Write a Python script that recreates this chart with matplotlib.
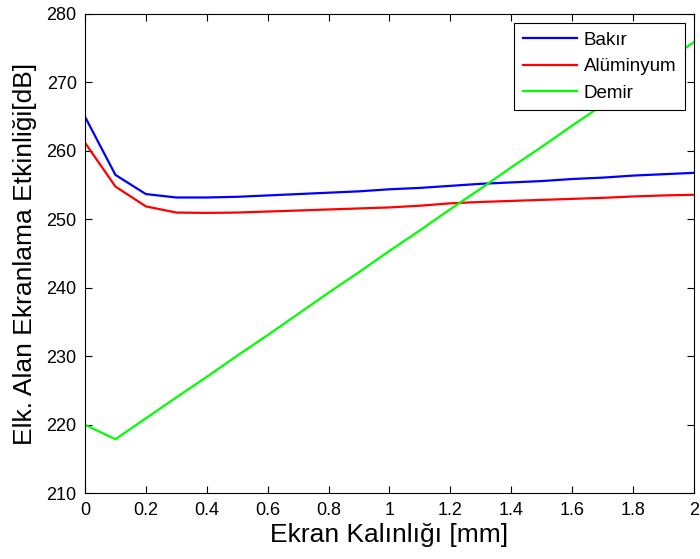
import matplotlib
matplotlib.use("Agg")
import matplotlib.pyplot as plt

# ekran kalinligi [mm]
thickness = [0.0, 0.1, 0.2, 0.3, 0.4, 0.5, 0.6, 0.7, 0.8, 0.9, 1.0,
             1.1, 1.2, 1.3, 1.4, 1.5, 1.6, 1.7, 1.8, 1.9, 2.0]

# ekranlama etkinligi [dB]
bakir = [265.0, 256.5, 253.7, 253.2, 253.2, 253.3, 253.5, 253.7, 253.9, 254.1, 254.4,
         254.6, 254.9, 255.2, 255.4, 255.6, 255.9, 256.1, 256.4, 256.6, 256.8]
aluminyum = [261.2, 254.8, 251.9, 251.0, 250.95, 251.0, 251.15, 251.3, 251.45, 251.6, 251.75,
             252.0, 252.35, 252.55, 252.7, 252.85, 253.0, 253.15, 253.35, 253.5, 253.6]
demir = [220.0, 217.9, 220.95, 224.0, 227.0, 230.1, 233.1, 236.2, 239.3, 242.3, 245.4,
         248.4, 251.5, 254.5, 257.6, 260.6, 263.7, 266.7, 269.8, 272.8, 275.9]

xticks = [0, 0.2, 0.4, 0.6, 0.8, 1, 1.2, 1.4, 1.6, 1.8, 2]
xtick_labels = ["0", "0.2", "0.4", "0.6", "0.8", "1", "1.2", "1.4", "1.6", "1.8", "2"]
yticks = [210, 220, 230, 240, 250, 260, 270, 280]

plt.rcParams['font.family'] = ['Liberation Sans Narrow', 'Liberation Sans', 'DejaVu Sans']
label_font = ['Liberation Sans', 'DejaVu Sans']

fig = plt.figure(figsize=(7, 5.59), dpi=100)
ax = fig.add_axes([0.1214, 0.1175, 0.87, 0.8575])

ax.plot(thickness, bakir, color=(0, 0, 1), lw=1.6, label="Bakır")
ax.plot(thickness, aluminyum, color=(1, 0, 0), lw=1.6, label="Alüminyum")
ax.plot(thickness, demir, color=(0, 1, 0), lw=1.6, label="Demir")

ax.set_xlim(0, 2)
ax.set_ylim(210, 280)
ax.set_xticks(xticks)
ax.set_xticklabels(xtick_labels)
ax.set_yticks(yticks)
ax.tick_params(direction="in", top=True, right=True, length=5, labelsize=13, pad=6)

ax.set_xlabel("Ekran Kalınlığı [mm]", fontsize=19, family=label_font, labelpad=3)
ax.set_ylabel("Elk. Alan Ekranlama Etkinliği[dB]", fontsize=19, family=label_font, labelpad=7)

leg = ax.legend(loc="upper right", fancybox=False, framealpha=1,
                edgecolor="black", handlelength=2.9, handletextpad=0.35,
                labelspacing=0.5, borderpad=0.45, borderaxespad=0.5,
                prop={'family': label_font, 'size': 13.5})
leg.get_frame().set_linewidth(0.8)

fig.savefig("out.png", dpi=100)
